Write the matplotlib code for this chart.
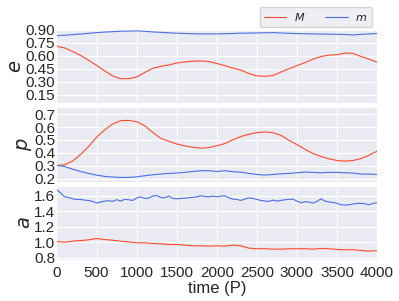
import matplotlib
matplotlib.use("Agg")
import matplotlib.pyplot as plt
import seaborn as sns
import numpy as np

# time grid of the coarse series (every 100 P) and fine series (every 50 P)
t_coarse = np.arange(0, 4001, 100)
t_fine = np.arange(0, 4001, 50)

e_M = [0.711, 0.691, 0.651, 0.604, 0.549, 0.490, 0.426, 0.367, 0.335, 0.335,
       0.355, 0.407, 0.454, 0.478, 0.493, 0.517, 0.529, 0.537, 0.541, 0.533,
       0.511, 0.486, 0.458, 0.434, 0.395, 0.367, 0.363, 0.371, 0.411, 0.450,
       0.486, 0.521, 0.561, 0.592, 0.608, 0.612, 0.632, 0.628, 0.592, 0.561,
       0.525]
e_m = [0.833, 0.838, 0.845, 0.852, 0.860, 0.868, 0.874, 0.879, 0.884, 0.886,
       0.888, 0.884, 0.876, 0.871, 0.866, 0.861, 0.858, 0.855, 0.853, 0.853,
       0.853, 0.855, 0.858, 0.861, 0.863, 0.864, 0.866, 0.868, 0.864, 0.860,
       0.857, 0.855, 0.853, 0.851, 0.850, 0.849, 0.846, 0.841, 0.848, 0.853,
       0.857]

p_M = [0.303, 0.308, 0.336, 0.387, 0.449, 0.521, 0.577, 0.623, 0.649, 0.651,
       0.641, 0.610, 0.559, 0.513, 0.490, 0.469, 0.454, 0.444, 0.436, 0.441,
       0.455, 0.472, 0.500, 0.526, 0.544, 0.556, 0.562, 0.556, 0.536, 0.497,
       0.464, 0.428, 0.395, 0.372, 0.354, 0.341, 0.336, 0.341, 0.356, 0.382,
       0.413]
p_m = [0.303, 0.295, 0.274, 0.256, 0.241, 0.228, 0.218, 0.213, 0.210, 0.210,
       0.215, 0.223, 0.231, 0.236, 0.241, 0.244, 0.249, 0.256, 0.262, 0.262,
       0.256, 0.262, 0.254, 0.251, 0.241, 0.233, 0.228, 0.233, 0.238, 0.241,
       0.246, 0.251, 0.249, 0.246, 0.249, 0.249, 0.246, 0.244, 0.236, 0.236,
       0.233]

a_M = [1.010, 1.001, 1.014, 1.022, 1.031, 1.048, 1.035, 1.027, 1.014, 1.005,
       0.993, 0.993, 0.984, 0.980, 0.971, 0.971, 0.963, 0.954, 0.954, 0.950,
       0.954, 0.950, 0.963, 0.954, 0.924, 0.916, 0.916, 0.911, 0.911, 0.916,
       0.916, 0.916, 0.911, 0.920, 0.916, 0.907, 0.903, 0.903, 0.894, 0.886,
       0.890]
a_m = [1.680, 1.638, 1.587, 1.579, 1.561, 1.553, 1.553, 1.544, 1.540, 1.527,
       1.506, 1.519, 1.532, 1.536, 1.527, 1.549, 1.532, 1.553, 1.549, 1.540,
       1.570, 1.587, 1.566, 1.570, 1.596, 1.604, 1.579, 1.574, 1.596, 1.566,
       1.561, 1.566, 1.570, 1.574, 1.579, 1.587, 1.600, 1.591, 1.587, 1.596,
       1.587, 1.596, 1.600, 1.574, 1.557, 1.553, 1.540, 1.557, 1.574, 1.566,
       1.553, 1.540, 1.532, 1.527, 1.544, 1.532, 1.540, 1.549, 1.553, 1.557,
       1.532, 1.510, 1.523, 1.519, 1.506, 1.527, 1.561, 1.532, 1.519, 1.514,
       1.502, 1.484, 1.480, 1.484, 1.493, 1.502, 1.502, 1.497, 1.484, 1.502,
       1.510]

RED = '#fa4a2a'
BLUE = '#4a6fe3'


def main():
  sns.set_style('darkgrid')
  plt.rcParams['font.family'] = ['Liberation Sans', 'DejaVu Sans']

  fig, axes = plt.subplots(3, 1, sharex=True, figsize=(3.99, 3.01), dpi=100)
  fig.subplots_adjust(left=0.1416, right=0.945, top=0.9037, bottom=0.136,
                      hspace=0.054)
  ax_e, ax_p, ax_a = axes

  ax_e.plot(t_coarse, e_M, color=RED, lw=0.8, label='$M$')
  ax_e.plot(t_coarse, e_m, color=BLUE, lw=0.8, label='$m$')
  ax_e.set_ylim(0.05, 0.91)
  ax_e.set_yticks([0.15, 0.30, 0.45, 0.60, 0.75, 0.90])
  ax_e.set_yticklabels(['0.15', '0.30', '0.45', '0.60', '0.75', '0.90'])
  ax_e.set_ylabel('$e$', fontsize=14, labelpad=0)

  ax_p.plot(t_coarse, p_M, color=RED, lw=0.8)
  ax_p.plot(t_coarse, p_m, color=BLUE, lw=0.8)
  ax_p.set_ylim(0.177, 0.752)
  ax_p.set_yticks([0.2, 0.3, 0.4, 0.5, 0.6, 0.7])
  ax_p.set_ylabel('$p$', fontsize=14, labelpad=0)

  ax_a.plot(t_coarse, a_M, color=RED, lw=0.8)
  ax_a.plot(t_fine, a_m, color=BLUE, lw=0.8)
  ax_a.set_ylim(0.77, 1.73)
  ax_a.set_yticks([0.8, 1.0, 1.2, 1.4, 1.6])
  ax_a.set_ylabel('$a$', fontsize=14, labelpad=0)

  ax_a.set_xlim(0, 4000)
  ax_a.set_xticks(np.arange(0, 4001, 500))
  ax_a.set_xlabel('time (P)', fontsize=12, labelpad=1)

  for ax in axes:
    ax.tick_params(axis='both', labelsize=11, pad=1, length=0)
  ax_a.tick_params(axis='x', pad=4)

  ax_e.legend(loc='lower right', bbox_to_anchor=(0.984, 1.02), ncol=2,
              fontsize=8, handlelength=2.0, handletextpad=0.7,
              columnspacing=1.8, borderaxespad=0, frameon=True)

  fig.savefig('out.png', dpi=100)


if __name__ == "__main__":
  main()
